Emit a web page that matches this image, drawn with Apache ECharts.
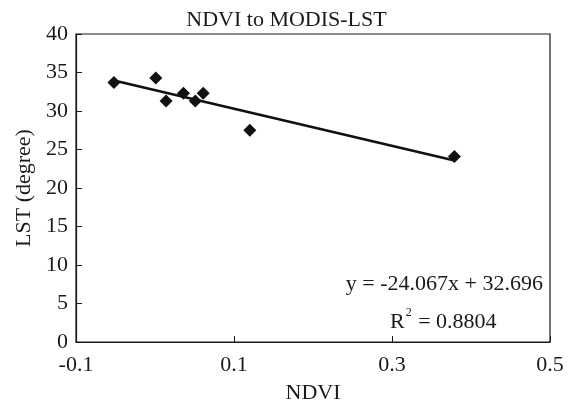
<!DOCTYPE html>
<html>
<head>
<meta charset="utf-8">
<script src="https://cdn.jsdelivr.net/npm/echarts@6/dist/echarts.min.js"></script>
<style>
  html, body { margin: 0; padding: 0; background: #fff; }
  #chart { width: 573px; height: 409px; }
</style>
</head>
<body>
<div id="chart"></div>
<script>
// measured points (NDVI, LST)
const ndvi = [-0.052, 0.001, 0.014, 0.036, 0.051, 0.061, 0.120, 0.379];
const lst = [33.7, 34.3, 31.3, 32.3, 31.3, 32.3, 27.5, 24.1];

// linear fit printed on the chart
const slope = -24.067;
const intercept = 32.696;
const r2 = 0.8804;
const trendX = [-0.052, 0.379];

const xTicks = ['-0.1', '0.1', '0.3', '0.5'];

const font = 'Liberation Serif, Times New Roman, serif';
const ink = '#1a1a1a';

const chart = echarts.init(document.getElementById('chart'));

chart.setOption({
  backgroundColor: '#fff',
  animation: false,
  title: {
    text: 'NDVI to MODIS-LST',
    left: 'center',
    top: 4,
    textStyle: { fontFamily: font, fontSize: 22, fontWeight: 'normal', color: ink }
  },
  grid: { left: 76, right: 23, top: 34, bottom: 64, show: true, borderColor: ink, borderWidth: 1.2 },
  xAxis: {
    type: 'value',
    min: -0.1,
    max: 0.5,
    interval: 0.2,
    name: 'NDVI',
    nameLocation: 'middle',
    nameGap: 40,
    nameTextStyle: { fontFamily: font, fontSize: 22, color: ink },
    axisLine: { onZero: false, lineStyle: { color: ink, width: 1.2 } },
    axisTick: { inside: true, length: 6, lineStyle: { color: ink } },
    axisLabel: {
      fontFamily: font, fontSize: 22, color: ink, margin: 12,
      formatter: (v) => xTicks.find((t) => Math.abs(parseFloat(t) - v) < 1e-6) || ''
    },
    splitLine: { show: false }
  },
  yAxis: {
    type: 'value',
    min: 0,
    max: 40,
    interval: 5,
    name: 'LST (degree)',
    nameLocation: 'middle',
    nameGap: 39,
    nameTextStyle: { fontFamily: font, fontSize: 22, color: ink },
    axisLine: { show: true, onZero: false, lineStyle: { color: ink, width: 1.2 } },
    axisTick: { show: true, inside: true, length: 6, lineStyle: { color: ink } },
    axisLabel: { fontFamily: font, fontSize: 22, color: ink, margin: 8 },
    splitLine: { show: false }
  },
  series: [
    {
      type: 'line',
      data: trendX.map((x) => [x, slope * x + intercept]),
      showSymbol: false,
      lineStyle: { color: '#111', width: 2.6 },
      z: 1
    },
    {
      type: 'scatter',
      data: ndvi.map((x, i) => [x, lst[i]]),
      symbol: 'diamond',
      symbolSize: 13,
      itemStyle: { color: '#111', opacity: 1 },
      z: 2
    }
  ],
  graphic: [
    {
      type: 'text',
      right: 30,
      top: 273,
      style: {
        text: 'y = ' + slope.toFixed(3) + 'x + ' + intercept.toFixed(3),
        font: '22px ' + font,
        fill: ink
      }
    },
    {
      type: 'text',
      left: 390,
      top: 307,
      style: {
        text: '{r|R}{sup|2}{r| = ' + r2.toFixed(4) + '}',
        fill: ink,
        rich: {
          r: { fontFamily: font, fontSize: 22, color: ink, lineHeight: 26, verticalAlign: 'bottom' },
          sup: { fontFamily: font, fontSize: 12, color: ink, lineHeight: 26, verticalAlign: 'top', padding: [0, 1, 10, 1] }
        }
      }
    }
  ]
});
</script>
</body>
</html>
